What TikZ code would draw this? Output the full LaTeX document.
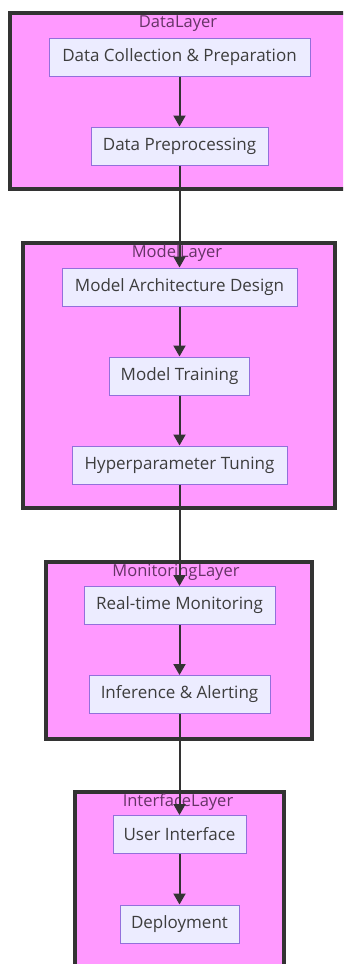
\documentclass[tikz,border=0pt]{standalone}
\usepackage{fontspec}
\setmainfont{Open Sans}
\usetikzlibrary{arrows.meta}
\definecolor{layerfill}{HTML}{FF99FF}
\definecolor{layerline}{HTML}{333333}
\definecolor{nodefill}{HTML}{ECECFF}
\definecolor{nodeline}{HTML}{9370DB}
\definecolor{txt}{HTML}{3D3D3D}
\definecolor{labeltxt}{HTML}{663366}
\tikzset{
  layerbox/.style={draw=layerline, fill=layerfill, line width=4pt},
  layerlabel/.style={text=labeltxt, font=\fontsize{16.5}{19}\selectfont, inner sep=0pt, anchor=center},
  procbox/.style={draw=nodeline, fill=nodefill, line width=1pt, text=txt,
    font=\fontsize{17}{20}\selectfont, minimum height=38pt, inner sep=0pt, anchor=center},
  flow/.style={draw=layerline, line width=2pt, -{Triangle[width=12pt,length=11pt]}}
}
\begin{document}
\begin{tikzpicture}[x=1pt,y=-1pt]
\clip (0,0) rectangle (343,964);
\useasboundingbox (0,0) rectangle (343,964);
\fill[white] (0,0) rectangle (343,964);
% layers
\draw[layerbox] (10,13) rectangle (360,189);
\draw[layerbox] (23,243) rectangle (335,508);
\draw[layerbox] (46,562) rectangle (312,739);
\draw[layerbox] (75,792) rectangle (284,1000);
\node[layerlabel] (ldata) at (178,23.5) {DataLayer};
\node[layerlabel] (lmodel) at (177,253.5) {ModelLayer};
\node[layerlabel] (lmon) at (176,572.5) {MonitoringLayer};
\node[layerlabel] (lint) at (178,802.5) {InterfaceLayer};
% nodes
\node[procbox, minimum width=261pt] (dc) at (179.5,57) {Data Collection \& Preparation};
\node[procbox, minimum width=177pt] (dp) at (179.5,146) {Data Preprocessing};
\node[procbox, minimum width=235pt] (mad) at (179.5,287) {Model Architecture Design};
\node[procbox, minimum width=140pt] (mt) at (179.5,376) {Model Training};
\node[procbox, minimum width=215pt] (ht) at (179.5,465) {Hyperparameter Tuning};
\node[procbox, minimum width=191pt] (rtm) at (179.5,605.5) {Real-time Monitoring};
\node[procbox, minimum width=181pt] (ia) at (179.5,694.5) {Inference \& Alerting};
\node[procbox, minimum width=133pt] (ui) at (179.5,834.5) {User Interface};
\node[procbox, minimum width=119pt] (dep) at (179.5,924) {Deployment};
% edges
\draw[flow] (dc) -- (dp);
\draw[flow] (dp) -- (mad);
\draw[flow] (mad) -- (mt);
\draw[flow] (mt) -- (ht);
\draw[flow] (ht) -- (rtm);
\draw[flow] (rtm) -- (ia);
\draw[flow] (ia) -- (ui);
\draw[flow] (ui) -- (dep);
\end{tikzpicture}
\end{document}
